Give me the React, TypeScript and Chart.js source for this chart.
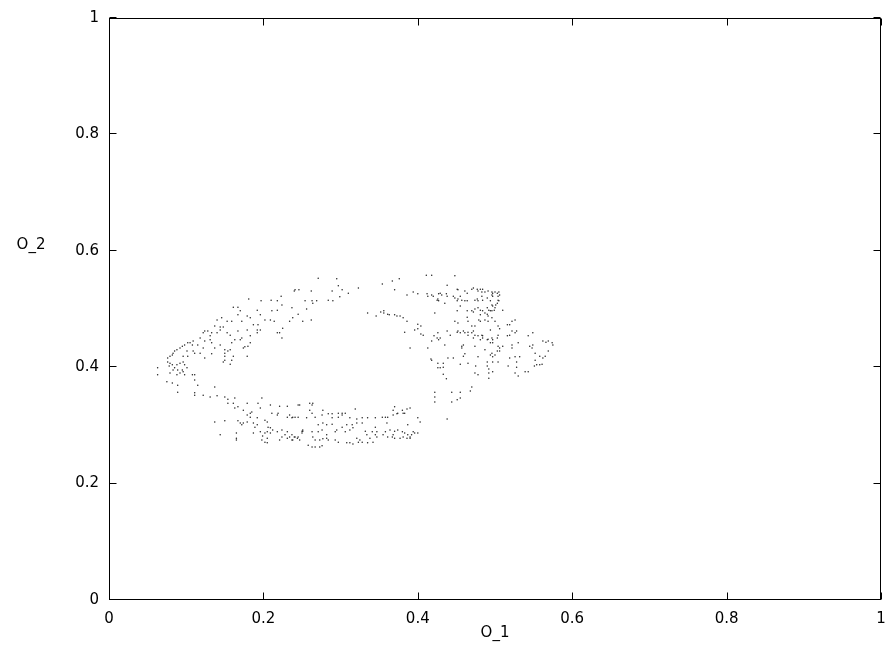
import React, { useEffect, useRef } from 'react';
import { Chart, registerables } from 'chart.js';

Chart.register(...registerables);

const tickValues = [0, 0.2, 0.4, 0.6, 0.8, 1];
const tickLabels = ['0', '0.2', '0.4', '0.6', '0.8', '1'];
const xTitle = 'O_1';
const yTitle = 'O_2';

const upperArc = [[0.240,0.531],[0.223,0.522],[0.181,0.517],[0.197,0.514],[0.210,0.515],[0.218,0.514],[0.224,0.507],[0.218,0.498],[0.237,0.502],[0.161,0.503],[0.167,0.503],[0.170,0.497],[0.167,0.490],[0.179,0.488],[0.192,0.498],[0.183,0.485],[0.196,0.490],[0.211,0.497],[0.202,0.481],[0.209,0.481],[0.214,0.479],[0.193,0.473],[0.187,0.473],[0.172,0.479],[0.159,0.479],[0.153,0.479],[0.146,0.485],[0.140,0.481],[0.137,0.471],[0.144,0.469],[0.148,0.469],[0.144,0.464],[0.140,0.459],[0.124,0.462],[0.128,0.462],[0.122,0.459],[0.133,0.459],[0.131,0.454],[0.153,0.459],[0.157,0.455],[0.167,0.462],[0.179,0.464],[0.172,0.450],[0.183,0.454],[0.192,0.464],[0.192,0.459],[0.196,0.464],[0.225,0.467],[0.218,0.459],[0.221,0.459],[0.224,0.450],[0.238,0.485],[0.234,0.479],[0.183,0.442],[0.180,0.436],[0.176,0.435],[0.174,0.433],[0.170,0.447],[0.163,0.447],[0.159,0.442],[0.157,0.430],[0.154,0.428],[0.150,0.430],[0.150,0.424],[0.144,0.438],[0.137,0.433],[0.131,0.447],[0.133,0.442],[0.124,0.445],[0.118,0.450],[0.115,0.438],[0.122,0.433],[0.109,0.445],[0.108,0.438],[0.102,0.442],[0.105,0.442],[0.098,0.438],[0.095,0.436],[0.092,0.433],[0.088,0.430],[0.085,0.428],[0.083,0.424],[0.082,0.421],[0.079,0.419],[0.076,0.416],[0.109,0.428],[0.111,0.424],[0.101,0.428],[0.096,0.419],[0.102,0.419],[0.150,0.419],[0.150,0.412],[0.161,0.419],[0.179,0.419],[0.133,0.423],[0.124,0.416],[0.118,0.424]];

const leftCluster = [[0.076,0.409],[0.079,0.407],[0.082,0.404],[0.078,0.402],[0.088,0.404],[0.092,0.407],[0.096,0.409],[0.098,0.404],[0.085,0.399],[0.089,0.395],[0.095,0.395],[0.096,0.392],[0.092,0.390],[0.088,0.387],[0.098,0.387],[0.083,0.395],[0.079,0.390],[0.101,0.399],[0.063,0.399],[0.063,0.387],[0.108,0.387],[0.111,0.387],[0.111,0.378],[0.075,0.375],[0.082,0.373],[0.089,0.369],[0.089,0.357],[0.115,0.369],[0.111,0.356],[0.111,0.352],[0.122,0.352],[0.131,0.349],[0.137,0.366],[0.140,0.351],[0.148,0.409],[0.157,0.405],[0.159,0.412]];

const lowerBandLeft = [[0.150,0.349],[0.154,0.345],[0.154,0.338],[0.161,0.338],[0.163,0.347],[0.167,0.332],[0.163,0.330],[0.179,0.338],[0.193,0.338],[0.198,0.347],[0.209,0.335],[0.221,0.333],[0.231,0.333],[0.185,0.323],[0.183,0.321],[0.174,0.326],[0.179,0.318],[0.183,0.314],[0.192,0.313],[0.196,0.330],[0.211,0.321],[0.218,0.318],[0.219,0.321],[0.231,0.314],[0.234,0.318],[0.237,0.313],[0.238,0.314],[0.137,0.306],[0.150,0.308],[0.167,0.308],[0.170,0.304],[0.174,0.304],[0.179,0.306],[0.172,0.301],[0.187,0.304],[0.192,0.301],[0.189,0.297],[0.202,0.309],[0.205,0.306],[0.206,0.297],[0.209,0.296],[0.187,0.287],[0.196,0.289],[0.202,0.287],[0.205,0.289],[0.209,0.287],[0.199,0.282],[0.205,0.278],[0.212,0.292],[0.218,0.289],[0.224,0.292],[0.231,0.289],[0.228,0.284],[0.231,0.278],[0.234,0.280],[0.237,0.275],[0.238,0.275],[0.237,0.284],[0.240,0.280],[0.144,0.284],[0.165,0.287],[0.165,0.278],[0.165,0.275],[0.198,0.275],[0.202,0.271],[0.205,0.270],[0.221,0.275],[0.224,0.280]];

const lowerBandRight = [[0.245,0.335],[0.247,0.335],[0.250,0.290],[0.251,0.290],[0.260,0.338],[0.263,0.335],[0.264,0.338],[0.260,0.326],[0.263,0.321],[0.256,0.313],[0.267,0.314],[0.276,0.318],[0.277,0.326],[0.284,0.320],[0.289,0.320],[0.297,0.321],[0.302,0.321],[0.306,0.321],[0.297,0.314],[0.302,0.318],[0.289,0.313],[0.312,0.313],[0.321,0.311],[0.328,0.313],[0.335,0.313],[0.345,0.313],[0.354,0.314],[0.358,0.314],[0.361,0.314],[0.368,0.318],[0.373,0.320],[0.374,0.321],[0.381,0.321],[0.383,0.321],[0.390,0.330],[0.319,0.328],[0.368,0.326],[0.386,0.328],[0.241,0.314],[0.245,0.314],[0.251,0.292],[0.250,0.287],[0.245,0.280],[0.247,0.275],[0.244,0.278],[0.241,0.280],[0.263,0.289],[0.264,0.280],[0.271,0.289],[0.276,0.292],[0.267,0.275],[0.273,0.275],[0.277,0.277],[0.282,0.284],[0.282,0.278],[0.284,0.275],[0.277,0.304],[0.282,0.301],[0.289,0.302],[0.271,0.301],[0.293,0.289],[0.295,0.292],[0.302,0.297],[0.308,0.301],[0.315,0.301],[0.306,0.289],[0.312,0.292],[0.316,0.296],[0.293,0.275],[0.297,0.271],[0.308,0.270],[0.312,0.270],[0.316,0.268],[0.258,0.266],[0.263,0.263],[0.267,0.263],[0.273,0.263],[0.276,0.265],[0.321,0.278],[0.323,0.271],[0.325,0.275],[0.328,0.271],[0.321,0.304],[0.328,0.304],[0.332,0.290],[0.334,0.284],[0.338,0.278],[0.341,0.289],[0.347,0.289],[0.335,0.270],[0.342,0.271],[0.345,0.284],[0.347,0.280],[0.355,0.284],[0.361,0.280],[0.367,0.280],[0.368,0.284],[0.358,0.289],[0.364,0.292],[0.370,0.290],[0.374,0.292],[0.380,0.289],[0.383,0.287],[0.387,0.284],[0.390,0.280],[0.392,0.284],[0.394,0.289],[0.396,0.287],[0.400,0.287],[0.370,0.278],[0.377,0.278],[0.381,0.280],[0.386,0.278],[0.390,0.278],[0.403,0.306],[0.400,0.313],[0.370,0.332],[0.380,0.326],[0.360,0.304],[0.387,0.301],[0.345,0.297],[0.422,0.357],[0.422,0.349],[0.422,0.340],[0.418,0.412],[0.426,0.407],[0.426,0.399]];

const upperMiddle = [[0.241,0.533],[0.246,0.533],[0.271,0.553],[0.295,0.552],[0.297,0.540],[0.302,0.533],[0.289,0.531],[0.262,0.531],[0.310,0.527],[0.323,0.536],[0.299,0.521],[0.290,0.514],[0.284,0.515],[0.269,0.514],[0.263,0.514],[0.264,0.510],[0.254,0.514],[0.256,0.500],[0.245,0.491],[0.251,0.479],[0.262,0.481],[0.335,0.493],[0.346,0.488],[0.352,0.495],[0.356,0.497],[0.356,0.493],[0.361,0.491],[0.363,0.490],[0.370,0.490],[0.373,0.488],[0.377,0.488],[0.381,0.485],[0.386,0.479],[0.354,0.543],[0.367,0.548],[0.376,0.552],[0.370,0.533],[0.386,0.524],[0.394,0.529],[0.400,0.526],[0.411,0.558],[0.418,0.558],[0.412,0.526],[0.413,0.522],[0.418,0.524],[0.420,0.522],[0.425,0.515],[0.426,0.517],[0.427,0.514],[0.427,0.526],[0.422,0.493],[0.400,0.474],[0.404,0.471],[0.400,0.466],[0.396,0.464],[0.404,0.457],[0.407,0.455],[0.383,0.460],[0.390,0.433],[0.413,0.433],[0.417,0.414],[0.418,0.445],[0.421,0.454],[0.425,0.450],[0.426,0.459],[0.427,0.447]];

const rightCluster = [[0.448,0.557],[0.438,0.541],[0.429,0.527],[0.431,0.524],[0.437,0.526],[0.438,0.522],[0.435,0.510],[0.451,0.534],[0.452,0.533],[0.461,0.531],[0.464,0.527],[0.470,0.534],[0.472,0.536],[0.477,0.534],[0.481,0.534],[0.484,0.534],[0.478,0.531],[0.483,0.529],[0.487,0.529],[0.491,0.531],[0.496,0.529],[0.497,0.527],[0.500,0.529],[0.503,0.527],[0.505,0.529],[0.455,0.522],[0.457,0.515],[0.461,0.514],[0.464,0.514],[0.446,0.522],[0.448,0.519],[0.452,0.517],[0.451,0.514],[0.474,0.515],[0.477,0.517],[0.478,0.514],[0.483,0.522],[0.484,0.515],[0.490,0.519],[0.496,0.524],[0.497,0.522],[0.504,0.522],[0.506,0.524],[0.504,0.515],[0.505,0.514],[0.503,0.510],[0.501,0.507],[0.494,0.514],[0.496,0.507],[0.497,0.505],[0.500,0.502],[0.499,0.498],[0.496,0.497],[0.490,0.502],[0.492,0.498],[0.494,0.497],[0.484,0.497],[0.487,0.493],[0.490,0.491],[0.481,0.498],[0.478,0.502],[0.474,0.500],[0.481,0.490],[0.479,0.481],[0.481,0.479],[0.491,0.488],[0.496,0.485],[0.487,0.481],[0.491,0.479],[0.510,0.498],[0.470,0.497],[0.472,0.495],[0.451,0.497],[0.464,0.497],[0.455,0.505],[0.464,0.486],[0.448,0.479],[0.452,0.476],[0.465,0.479],[0.500,0.479],[0.504,0.471],[0.506,0.466],[0.494,0.464],[0.522,0.479],[0.526,0.481],[0.516,0.473],[0.519,0.473],[0.522,0.462],[0.526,0.459],[0.528,0.462],[0.516,0.454],[0.519,0.455],[0.470,0.471],[0.474,0.471]];

const rightLobe = [[0.438,0.462],[0.442,0.455],[0.451,0.460],[0.452,0.462],[0.455,0.459],[0.459,0.462],[0.461,0.459],[0.465,0.460],[0.470,0.459],[0.472,0.462],[0.465,0.455],[0.472,0.450],[0.474,0.455],[0.478,0.454],[0.483,0.455],[0.484,0.454],[0.481,0.447],[0.484,0.450],[0.490,0.447],[0.491,0.448],[0.496,0.450],[0.497,0.447],[0.504,0.455],[0.503,0.450],[0.494,0.442],[0.497,0.442],[0.504,0.436],[0.506,0.433],[0.510,0.436],[0.503,0.428],[0.506,0.428],[0.496,0.424],[0.500,0.421],[0.487,0.430],[0.522,0.438],[0.522,0.433],[0.530,0.442],[0.429,0.450],[0.435,0.438],[0.457,0.436],[0.457,0.433],[0.459,0.438],[0.474,0.436],[0.439,0.416],[0.446,0.416],[0.459,0.419],[0.461,0.423],[0.478,0.418],[0.494,0.421],[0.497,0.418],[0.519,0.416],[0.526,0.418],[0.532,0.418],[0.545,0.436],[0.548,0.433],[0.549,0.438],[0.543,0.454],[0.549,0.459],[0.552,0.424],[0.558,0.419],[0.562,0.416],[0.565,0.419],[0.562,0.445],[0.566,0.443],[0.569,0.445],[0.574,0.442],[0.575,0.438],[0.569,0.428]];

const lowerRight = [[0.433,0.400],[0.433,0.388],[0.437,0.380],[0.444,0.357],[0.455,0.357],[0.468,0.359],[0.470,0.366],[0.444,0.340],[0.451,0.344],[0.455,0.347],[0.438,0.311],[0.455,0.405],[0.465,0.407],[0.474,0.390],[0.478,0.387],[0.475,0.402],[0.490,0.409],[0.490,0.402],[0.492,0.397],[0.492,0.390],[0.492,0.381],[0.497,0.392],[0.497,0.409],[0.504,0.409],[0.517,0.402],[0.526,0.390],[0.528,0.400],[0.528,0.409],[0.530,0.385],[0.539,0.392],[0.543,0.392],[0.551,0.402],[0.554,0.404],[0.558,0.404],[0.561,0.405],[0.552,0.412],[0.429,0.399],[0.433,0.407]];

const W = 885;
const H = 650;
const FAMILY = '"DejaVu Sans", "Liberation Sans", Arial, sans-serif';
const FONT = '15px ' + FAMILY;

const framePlugin = {
  id: 'gnuFrame',
  afterDraw(chart: any) {
    const { ctx, chartArea: a, scales } = chart;
    const xs = scales.x;
    const ys = scales.y;
    ctx.save();
    ctx.strokeStyle = '#000';
    ctx.lineWidth = 1;
    const L = Math.round(a.left) + 0.5;
    const R = Math.round(a.right) - 0.5;
    const T = Math.round(a.top) + 0.5;
    const B = Math.round(a.bottom) - 0.5;
    ctx.strokeRect(L, T, R - L, B - T);
    const tl = 7;
    ctx.beginPath();
    tickValues.forEach((v) => {
      const px = Math.round(xs.getPixelForValue(v)) + 0.5;
      ctx.moveTo(px, B);
      ctx.lineTo(px, B - tl);
      ctx.moveTo(px, T);
      ctx.lineTo(px, T + tl);
      const py = Math.round(ys.getPixelForValue(v)) - 0.5;
      ctx.moveTo(L, py);
      ctx.lineTo(L + tl, py);
      ctx.moveTo(R, py);
      ctx.lineTo(R - tl, py);
    });
    ctx.stroke();
    ctx.fillStyle = '#000';
    ctx.font = FONT;
    ctx.textAlign = 'center';
    ctx.textBaseline = 'middle';
    ctx.fillText(xTitle, (a.left + a.right) / 2, a.bottom + 33);
    ctx.fillText(yTitle, a.left - 78, a.top + 227);
    ctx.restore();
  },
};

export default function App() {
  const ref = useRef<HTMLCanvasElement | null>(null);
  useEffect(() => {
    if (!ref.current) return;
    const pts = [
      ...upperArc,
      ...leftCluster,
      ...lowerBandLeft,
      ...lowerBandRight,
      ...upperMiddle,
      ...rightCluster,
      ...rightLobe,
      ...lowerRight,
    ].map(([x, y]) => ({ x, y }));
    const tickCallback = (value: any) => {
      const i = tickValues.findIndex((t) => Math.abs(t - Number(value)) < 1e-9);
      return i >= 0 ? tickLabels[i] : '';
    };
    const setTicks = (scale: any) => {
      scale.ticks = tickValues.map((v) => ({ value: v }));
    };
    const chart = new Chart(ref.current, {
      type: 'scatter',
      data: {
        datasets: [
          {
            data: pts,
            pointRadius: 0.75,
            pointHoverRadius: 0.75,
            pointBorderWidth: 0,
            backgroundColor: '#222',
            borderColor: '#222',
          },
        ],
      },
      options: {
        responsive: false,
        animation: false,
        devicePixelRatio: 1,
        events: [],
        layout: { padding: { top: 18, right: 4, left: 0, bottom: 0 } },
        plugins: { legend: { display: false }, tooltip: { enabled: false } },
        scales: {
          x: {
            type: 'linear',
            min: 0,
            max: 1,
            afterBuildTicks: setTicks,
            afterFit: (s: any) => { s.height = 50; s.paddingLeft = 0; s.paddingRight = 0; },
            grid: { display: false, drawTicks: false },
            border: { display: false },
            ticks: { callback: tickCallback, color: '#000', font: { family: FAMILY, size: 15 }, padding: 10, maxRotation: 0 },
          },
          y: {
            type: 'linear',
            min: 0,
            max: 1,
            afterBuildTicks: setTicks,
            afterFit: (s: any) => { s.width = 109; s.paddingTop = 0; s.paddingBottom = 0; },
            grid: { display: false, drawTicks: false },
            border: { display: false },
            ticks: { callback: tickCallback, color: '#000', font: { family: FAMILY, size: 15 }, padding: 10 },
          },
        },
      },
      plugins: [framePlugin],
    });
    return () => chart.destroy();
  }, []);
  return (
    <div style={{ position: 'fixed', left: 0, top: 0, width: W, height: H, background: '#fff' }}>
      <canvas ref={ref} width={W} height={H} style={{ display: 'block', width: W, height: H }} />
    </div>
  );
}
